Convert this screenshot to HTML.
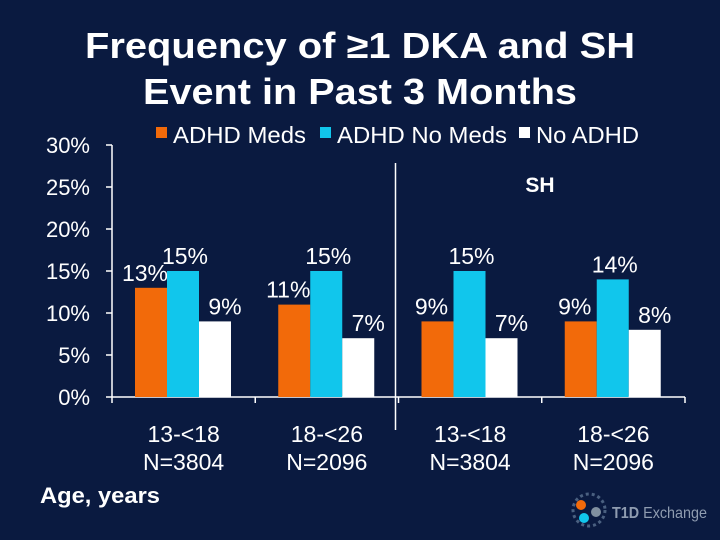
<!DOCTYPE html>
<html><head><meta charset="utf-8"><style>
html,body{margin:0;padding:0;background:#0a1a40;}
svg{display:block;font-family:"Liberation Sans",Arial,sans-serif;}
</style></head><body>
<svg width="720" height="540" viewBox="0 0 720 540">
<rect width="720" height="540" fill="#0a1a40"/>
<text x="85" y="58" textLength="550" lengthAdjust="spacingAndGlyphs" fill="#fff" font-size="36" font-weight="bold">Frequency of ≥1 DKA and SH</text>
<text x="143" y="104" textLength="434" lengthAdjust="spacingAndGlyphs" fill="#fff" font-size="36" font-weight="bold">Event in Past 3 Months</text>
<g>
<rect x="156" y="127" width="11" height="11" fill="#f26a0a"/>
<text x="173" y="143" textLength="133" lengthAdjust="spacingAndGlyphs" fill="#fff" font-size="23">ADHD Meds</text>
<rect x="320" y="127" width="11" height="11" fill="#11c6ec"/>
<text x="337" y="143" textLength="170" lengthAdjust="spacingAndGlyphs" fill="#fff" font-size="23">ADHD No Meds</text>
<rect x="519" y="127" width="11" height="11" fill="#fff"/>
<text x="536" y="143" textLength="103" lengthAdjust="spacingAndGlyphs" fill="#fff" font-size="23">No ADHD</text>
</g>
<text x="540" y="192" text-anchor="middle" fill="#fff" font-size="21" font-weight="bold">SH</text>
<line x1="395.5" y1="163" x2="395.5" y2="430" stroke="#fff" stroke-width="1.5"/>
<g id="plot"></g>
<text x="40" y="503" textLength="120" lengthAdjust="spacingAndGlyphs" fill="#fff" font-size="22" font-weight="bold">Age, years</text>
<g>
<circle cx="589" cy="510" r="16" fill="none" stroke="#4a6080" stroke-width="3" stroke-dasharray="3 3"/>
<circle cx="581" cy="505" r="5" fill="#f26a0a"/>
<circle cx="584" cy="518" r="5" fill="#11c6ec"/>
<circle cx="596" cy="512" r="5" fill="#8090a0"/>
<text x="612" y="518" textLength="95" lengthAdjust="spacingAndGlyphs" fill="#8f9cb0" font-size="16"><tspan font-weight="bold">T1D</tspan> Exchange</text>
</g>
</svg>
<script>
const categories = ["13-<18","18-<26","13-<18","18-<26"];
const nLabels = ["N=3804","N=2096","N=3804","N=2096"];
const adhdMeds = [13, 11, 9, 9];
const adhdNoMeds = [15, 15, 15, 14];
const noAdhd = [9, 7, 7, 8];
const yTicks = [0,5,10,15,20,25,30];
const seriesNames = ["adhd-meds","adhd-no-meds","no-adhd"];
const colors = ["#f26a0a","#11c6ec","#ffffff"];
const X0=112, X1=685, Y0=397, Y1=145, YMAX=30;
const ns="http://www.w3.org/2000/svg";
const g=document.getElementById('plot');
function y(v){return Y0-(v/YMAX)*(Y0-Y1);}
const gw=(X1-X0)/categories.length;
function mk(tag,attrs){const e=document.createElementNS(ns,tag);for(const k in attrs)e.setAttribute(k,attrs[k]);g.appendChild(e);return e;}
let e=mk('line',{x1:X0,y1:Y1,x2:X0,y2:Y0,stroke:'#fff','stroke-width':1.5});


e=mk('line',{x1:X0,y1:Y0,x2:X1,y2:Y0,stroke:'#fff','stroke-width':1.5});


yTicks.forEach(t=>{
  let l=mk('line',{x1:X0-6,y1:y(t),x2:X0,y2:y(t),stroke:'#fff','stroke-width':1.5});
  
  
  let tx=mk('text',{x:90,y:y(t)+8,'text-anchor':'end',fill:'#fff','font-size':22});
  tx.textContent=t+'%';
  
  
});
for(let i=0;i<=categories.length;i++){
  let l=mk('line',{x1:X0+gw*i,y1:Y0,x2:X0+gw*i,y2:Y0+6,stroke:'#fff','stroke-width':1.5});
  
  
}
const series=[adhdMeds,adhdNoMeds,noAdhd];
const bw=32, off=23;
categories.forEach((c,i)=>{
  series.forEach((s,j)=>{
    const bx=X0+gw*i+off+bw*j;
    let r=mk('rect',{x:bx,y:y(s[i]),width:bw,height:Y0-y(s[i]),fill:colors[j]});
    
    
    let tx=mk('text',{x:bx+bw/2+(j==0?-6:j==2?10:2),y:y(s[i])-7,'text-anchor':'middle',fill:'#fff','font-size':23});
    tx.textContent=s[i]+'%';
    
    
  });
  const cx=X0+gw*i+gw/2;
  let t1=mk('text',{x:cx,y:442,'text-anchor':'middle',fill:'#fff','font-size':23});
  t1.textContent=c;
  
  
  let t2=mk('text',{x:cx,y:470,'text-anchor':'middle',fill:'#fff','font-size':23});
  t2.textContent=nLabels[i];
  
  
});
</script>
</body></html>
